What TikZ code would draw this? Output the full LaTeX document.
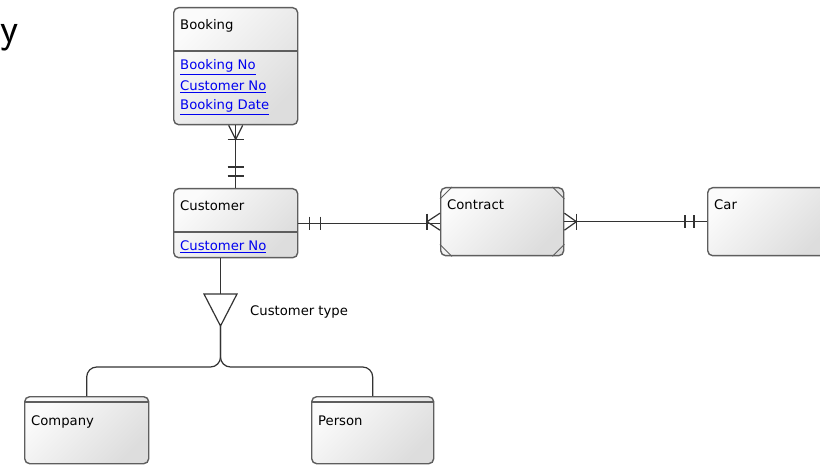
\documentclass[tikz,border=0pt]{standalone}
\usepackage{fontspec}
\setmainfont{DejaVu Sans}
\usetikzlibrary{calc}
\definecolor{eline}{HTML}{5E5E5E}
\definecolor{elink}{HTML}{0000F0}
\tikzset{
  ebox/.style={draw=eline,line width=1.4pt,rounded corners=5pt,top color=gray!3,bottom color=gray!27,shading angle=45,inner sep=0pt,anchor=north west},
  elab/.style={font=\fontsize{13.2}{16}\selectfont,anchor=base west,inner sep=0pt},
  eattr/.style={elab,text=elink},
  esep/.style={eline,line width=1.2pt},
  rel/.style={line width=1.2pt,black!80},
}

\begin{document}
\begin{tikzpicture}[x=1pt,y=-1pt]
\useasboundingbox (0,0) rectangle (820,465);
\clip (0,0) rectangle (820,465);
% heading letter at the left edge
\node[font=\fontsize{42}{42}\sffamily,anchor=base west,inner sep=0pt] (cutY) at (0.5,43) {y};
%% entities
\node[ebox,minimum width=124pt,minimum height=117pt] (booking) at (173,7) {};
\node[ebox,minimum width=124pt,minimum height=69pt] (customer) at (173,188) {};
\node[ebox,minimum width=123pt,minimum height=68pt] (contract) at (440,187) {};
\node[ebox,minimum width=124pt,minimum height=68pt] (car) at (707,187) {};
\node[ebox,minimum width=124pt,minimum height=67pt] (company) at (24,396) {};
\node[ebox,minimum width=122pt,minimum height=67pt] (person) at (311,396) {};
% header separators
\draw[esep] ($(booking.north west)+(0,44)$) -- ($(booking.north east)+(0,44)$);
\draw[esep] ($(customer.north west)+(0,44)$) -- ($(customer.north east)+(0,44)$);
\draw[esep] ($(company.north west)+(0,6)$) -- ($(company.north east)+(0,6)$);
\draw[esep] ($(person.north west)+(0,6)$) -- ($(person.north east)+(0,6)$);
% associative entity: cut corners
\foreach \a/\sx/\sy in {north west/1/1,north east/-1/1,south west/1/-1,south east/-1/-1}
  \draw[eline,line width=0.9pt] ($(contract.\a)+(12*\sx,0)$) -- ($(contract.\a)+(0,12*\sy)$);
%% names and attributes
\node[elab] (bookingT) at ($(booking.north west)+(7,22.5)$) {Booking};
\node[eattr] (bookingA) at ($(booking.north west)+(7,63)$) {\underline{Booking No}};
\node[eattr] (bookingB) at ($(booking.north west)+(7,83.5)$) {\underline{Customer No}};
\node[eattr] (bookingC) at ($(booking.north west)+(7,103)$) {\underline{Booking Date}};
\node[elab] (customerT) at ($(customer.north west)+(7,22.7)$) {Customer};
\node[eattr] (customerA) at ($(customer.north west)+(7,62.7)$) {\underline{Customer No}};
\node[elab] (contractT) at ($(contract.north west)+(7,22.3)$) {Contract};
\node[elab] (carT) at ($(car.north west)+(7,23)$) {Car};
\node[elab] (companyT) at ($(company.north west)+(7,29)$) {Company};
\node[elab] (personT) at ($(person.north west)+(7,29)$) {Person};
%% relationships
% booking >|----|| customer
\draw[rel] (booking.south) -- (customer.north);
\draw[rel] ($(booking.south)+(-7,0)$) -- ($(booking.south)+(0,14)$) -- ($(booking.south)+(7,0)$);
\draw[rel] ($(booking.south)+(-8,14)$) -- ++(16,0);
\foreach \d in {12,21}
  \draw[rel] ($(customer.north)+(-8,-\d)$) -- ++(16,0);
% customer ||----|< contract
\draw[rel] (customer.east) -- (customer.east -| contract.west);
\foreach \d in {11,22}
  \draw[rel] ($(customer.east)+(\d,-6.5)$) -- ++(0,13);
\draw[rel] ($(contract.west)+(0,-8.5)$) -- ($(contract.west)+(-13,0)$) -- ($(contract.west)+(0,8.5)$);
\draw[rel] ($(contract.west)+(-13,-8)$) -- ++(0,16);
% contract >|----|| car
\draw[rel] (contract.east) -- (car.west);
\draw[rel] ($(contract.east)+(0,-8.5)$) -- ($(contract.east)+(12,0)$) -- ($(contract.east)+(0,8.5)$);
\draw[rel] ($(contract.east)+(12,-8)$) -- ++(0,16);
\foreach \d in {13,22}
  \draw[rel] ($(car.west)+(-\d,-6.5)$) -- ++(0,13);
%% subtypes of customer
\coordinate (tri) at (220.5,294);
\draw[rel] (customer.south -| tri) -- (tri);
\draw[rel] ($(tri)+(-16.5,0)$) -- ($(tri)+(16.5,0)$) -- ($(tri)+(0,32)$) coordinate (triapex) -- cycle;
\node[elab] (ctype) at (250,316) {Customer type};
\coordinate (split) at (220.5,367);
\draw[rel,rounded corners=10pt] (triapex) -- (split) -| (company.north);
\draw[rel,rounded corners=10pt] (triapex) -- (split) -| (person.north);
\end{tikzpicture}
\end{document}
